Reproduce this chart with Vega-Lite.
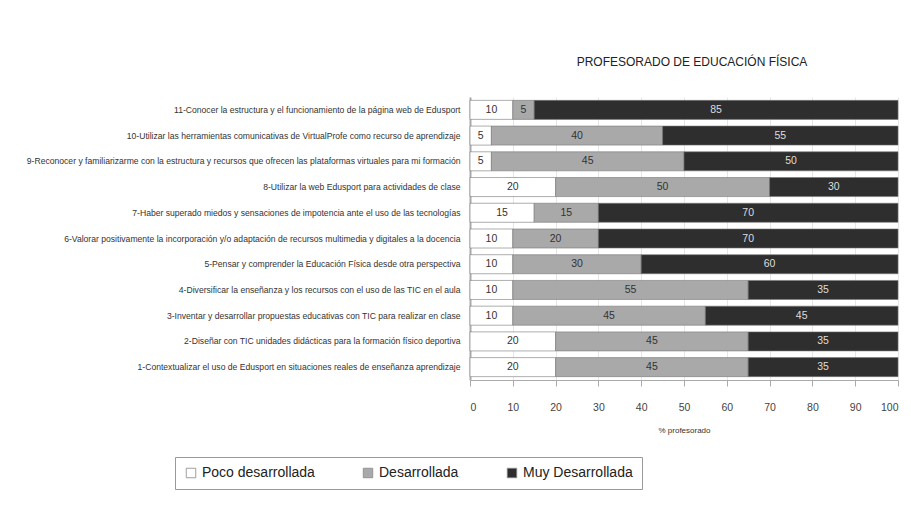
{
  "$schema": "https://vega.github.io/schema/vega-lite/v6.json",
  "width": 428,
  "height": 283,
  "autosize": {"type": "none"},
  "padding": {"left": 470, "top": 97, "right": 13, "bottom": 143},
  "background": "white",
  "config": {
    "font": "Liberation Sans",
    "view": {"stroke": null},
    "axis": {"labelFont": "Liberation Sans", "titleFont": "Liberation Sans"}
  },
  "title": {
    "text": "PROFESORADO DE EDUCACIÓN FÍSICA",
    "fontSize": 12,
    "fontWeight": "normal",
    "color": "#222",
    "anchor": "middle",
    "dx": 8,
    "offset": 28
  },
  "data": {
    "values": [
      {"n": 1, "item": "11-Conocer la estructura y el funcionamiento de la página web de Edusport", "nivel": "Poco desarrollada", "k": 1, "pct": 10},
      {"n": 1, "item": "11-Conocer la estructura y el funcionamiento de la página web de Edusport", "nivel": "Desarrollada", "k": 2, "pct": 5},
      {"n": 1, "item": "11-Conocer la estructura y el funcionamiento de la página web de Edusport", "nivel": "Muy Desarrollada", "k": 3, "pct": 85},
      {"n": 2, "item": "10-Utilizar las herramientas comunicativas de VirtualProfe como recurso de aprendizaje", "nivel": "Poco desarrollada", "k": 1, "pct": 5},
      {"n": 2, "item": "10-Utilizar las herramientas comunicativas de VirtualProfe como recurso de aprendizaje", "nivel": "Desarrollada", "k": 2, "pct": 40},
      {"n": 2, "item": "10-Utilizar las herramientas comunicativas de VirtualProfe como recurso de aprendizaje", "nivel": "Muy Desarrollada", "k": 3, "pct": 55},
      {"n": 3, "item": "9-Reconocer y familiarizarme con la estructura y recursos que ofrecen las plataformas virtuales para mi formación", "nivel": "Poco desarrollada", "k": 1, "pct": 5},
      {"n": 3, "item": "9-Reconocer y familiarizarme con la estructura y recursos que ofrecen las plataformas virtuales para mi formación", "nivel": "Desarrollada", "k": 2, "pct": 45},
      {"n": 3, "item": "9-Reconocer y familiarizarme con la estructura y recursos que ofrecen las plataformas virtuales para mi formación", "nivel": "Muy Desarrollada", "k": 3, "pct": 50},
      {"n": 4, "item": "8-Utilizar la web Edusport para actividades de clase", "nivel": "Poco desarrollada", "k": 1, "pct": 20},
      {"n": 4, "item": "8-Utilizar la web Edusport para actividades de clase", "nivel": "Desarrollada", "k": 2, "pct": 50},
      {"n": 4, "item": "8-Utilizar la web Edusport para actividades de clase", "nivel": "Muy Desarrollada", "k": 3, "pct": 30},
      {"n": 5, "item": "7-Haber superado miedos y sensaciones de impotencia ante el uso de las tecnologías", "nivel": "Poco desarrollada", "k": 1, "pct": 15},
      {"n": 5, "item": "7-Haber superado miedos y sensaciones de impotencia ante el uso de las tecnologías", "nivel": "Desarrollada", "k": 2, "pct": 15},
      {"n": 5, "item": "7-Haber superado miedos y sensaciones de impotencia ante el uso de las tecnologías", "nivel": "Muy Desarrollada", "k": 3, "pct": 70},
      {"n": 6, "item": "6-Valorar positivamente la incorporación y/o adaptación de recursos multimedia y digitales a la docencia", "nivel": "Poco desarrollada", "k": 1, "pct": 10},
      {"n": 6, "item": "6-Valorar positivamente la incorporación y/o adaptación de recursos multimedia y digitales a la docencia", "nivel": "Desarrollada", "k": 2, "pct": 20},
      {"n": 6, "item": "6-Valorar positivamente la incorporación y/o adaptación de recursos multimedia y digitales a la docencia", "nivel": "Muy Desarrollada", "k": 3, "pct": 70},
      {"n": 7, "item": "5-Pensar y comprender la Educación Física desde otra perspectiva", "nivel": "Poco desarrollada", "k": 1, "pct": 10},
      {"n": 7, "item": "5-Pensar y comprender la Educación Física desde otra perspectiva", "nivel": "Desarrollada", "k": 2, "pct": 30},
      {"n": 7, "item": "5-Pensar y comprender la Educación Física desde otra perspectiva", "nivel": "Muy Desarrollada", "k": 3, "pct": 60},
      {"n": 8, "item": "4-Diversificar la enseñanza y los recursos con el uso de las TIC en el aula", "nivel": "Poco desarrollada", "k": 1, "pct": 10},
      {"n": 8, "item": "4-Diversificar la enseñanza y los recursos con el uso de las TIC en el aula", "nivel": "Desarrollada", "k": 2, "pct": 55},
      {"n": 8, "item": "4-Diversificar la enseñanza y los recursos con el uso de las TIC en el aula", "nivel": "Muy Desarrollada", "k": 3, "pct": 35},
      {"n": 9, "item": "3-Inventar y desarrollar propuestas educativas con TIC para realizar en clase", "nivel": "Poco desarrollada", "k": 1, "pct": 10},
      {"n": 9, "item": "3-Inventar y desarrollar propuestas educativas con TIC para realizar en clase", "nivel": "Desarrollada", "k": 2, "pct": 45},
      {"n": 9, "item": "3-Inventar y desarrollar propuestas educativas con TIC para realizar en clase", "nivel": "Muy Desarrollada", "k": 3, "pct": 45},
      {"n": 10, "item": "2-Diseñar con TIC unidades didácticas para la formación físico deportiva", "nivel": "Poco desarrollada", "k": 1, "pct": 20},
      {"n": 10, "item": "2-Diseñar con TIC unidades didácticas para la formación físico deportiva", "nivel": "Desarrollada", "k": 2, "pct": 45},
      {"n": 10, "item": "2-Diseñar con TIC unidades didácticas para la formación físico deportiva", "nivel": "Muy Desarrollada", "k": 3, "pct": 35},
      {"n": 11, "item": "1-Contextualizar el uso de Edusport en situaciones reales de enseñanza aprendizaje", "nivel": "Poco desarrollada", "k": 1, "pct": 20},
      {"n": 11, "item": "1-Contextualizar el uso de Edusport en situaciones reales de enseñanza aprendizaje", "nivel": "Desarrollada", "k": 2, "pct": 45},
      {"n": 11, "item": "1-Contextualizar el uso de Edusport en situaciones reales de enseñanza aprendizaje", "nivel": "Muy Desarrollada", "k": 3, "pct": 35}
    ]
  },
  "encoding": {
    "y": {
      "field": "item",
      "type": "nominal",
      "sort": {"field": "n", "op": "min"},
      "title": null,
      "scale": {"paddingInner": 0.26, "paddingOuter": 0.13},
      "axis": {
        "labelFontSize": 8.6,
        "labelColor": "#333",
        "labelLimit": 600,
        "labelPadding": 10,
        "ticks": false,
        "domain": true,
        "domainColor": "#aaa",
        "domainWidth": 2
      }
    },
    "x": {
      "field": "pct",
      "type": "quantitative",
      "stack": "zero",
      "scale": {"domain": [0, 100], "nice": false},
      "title": "% profesorado",
      "axis": {
        "values": [0, 10, 20, 30, 40, 50, 60, 70, 80, 90, 100],
        "labelFontSize": 10.5,
        "labelColor": "#444",
        "labelPadding": 16,
        "grid": true,
        "gridColor": "#e6e6e6",
        "domainColor": "#aaa",
        "tickColor": "#aaa",
        "tickSize": 6,
        "titleFontSize": 8,
        "titleFontWeight": "normal",
        "titleColor": "#333",
        "titlePadding": 14
      }
    },
    "order": {"field": "k", "type": "quantitative"}
  },
  "layer": [
    {
      "mark": {"type": "bar", "stroke": "#777", "strokeWidth": 0.6},
      "encoding": {
        "color": {
          "field": "nivel",
          "type": "nominal",
          "scale": {
            "domain": ["Poco desarrollada", "Desarrollada", "Muy Desarrollada"],
            "range": ["#ffffff", "#a9a9a9", "#2e2e2e"]
          },
          "legend": {
            "title": null,
            "orient": "none",
            "direction": "horizontal",
            "legendX": -295,
            "legendY": 360,
            "labelFontSize": 14,
            "labelColor": "#222",
            "symbolType": "square",
            "symbolSize": 90,
            "symbolStrokeColor": "#888",
            "symbolStrokeWidth": 0.8,
            "columnPadding": 46,
            "padding": 9,
            "strokeColor": "#999",
            "fillColor": "white",
            "labelLimit": 300
          }
        }
      }
    },
    {
      "mark": {"type": "text", "fontSize": 10.5, "baseline": "middle", "align": "center"},
      "encoding": {
        "x": {"field": "pct", "type": "quantitative", "stack": "zero", "bandPosition": 0.5},
        "text": {"field": "pct", "type": "quantitative"},
        "color": {
          "condition": {"test": "datum.nivel === 'Muy Desarrollada'", "value": "#dddddd"},
          "value": "#333333"
        }
      }
    }
  ]
}
